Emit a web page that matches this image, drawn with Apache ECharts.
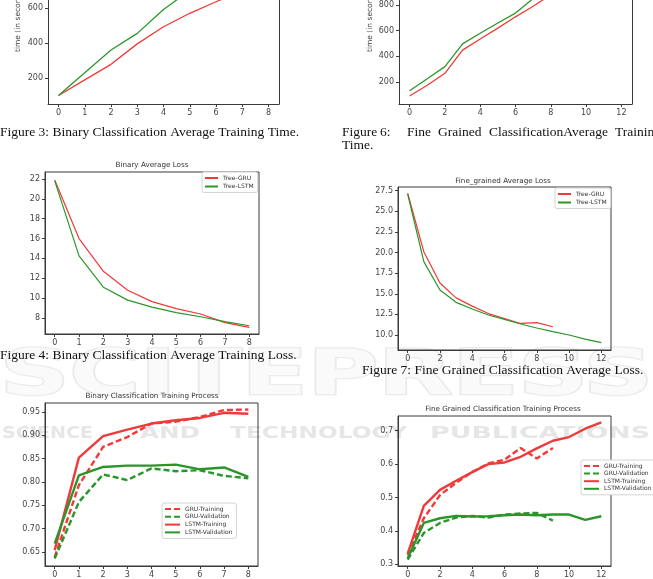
<!DOCTYPE html>
<html>
<head>
<meta charset="utf-8">
<script src="https://cdn.jsdelivr.net/npm/echarts@6/dist/echarts.min.js"></script>
<style>
html, body { margin: 0; padding: 0; background: #fff; }
#page { width: 653px; height: 579px; }
</style>
</head>
<body>
<div id="page"></div>
<script>
// fig 3 - binary avg training time (s)
const timeBinGru  = [100, 189, 278, 395, 493, 570, 636, 700, 760];
const timeBinLstm = [100, 230, 360, 455, 592, 700, 800, 900, 994];
// fig 6 - fine grained avg training time (s)
const timeFineGru  = [91, 175, 268, 449, 535, 620, 708, 790, 880, 970];
const timeFineLstm = [132, 225, 320, 497, 580, 660, 737, 850, 940, 1030, 1120, 1210, 1300];
// fig 4 - binary avg loss
const lossBinGru  = [21.9, 16.0, 12.7, 10.8, 9.65, 8.94, 8.4, 7.53, 7.06];
const lossBinLstm = [21.8, 14.25, 11.1, 9.8, 9.1, 8.55, 8.13, 7.63, 7.22];
// fig 7 - fine grained avg loss
const lossFineGru  = [27.2, 20.1, 16.3, 14.5, 13.5, 12.6, 12.0, 11.4, 11.5, 11.0];
const lossFineLstm = [27.1, 18.9, 15.45, 13.96, 13.15, 12.42, 11.9, 11.33, 10.85, 10.4, 10.0, 9.5, 9.07];
// fig 5 - binary training process
const accBinGruTrain  = [0.639, 0.793, 0.875, 0.896, 0.925, 0.929, 0.939, 0.954, 0.955];
const accBinGruVal    = [0.636, 0.757, 0.816, 0.804, 0.829, 0.823, 0.825, 0.813, 0.808];
const accBinLstmTrain = [0.654, 0.852, 0.898, 0.912, 0.925, 0.932, 0.937, 0.948, 0.946];
const accBinLstmVal   = [0.668, 0.814, 0.832, 0.835, 0.835, 0.837, 0.827, 0.831, 0.811];
// fig 8 - fine grained training process
const accFineGruTrain  = [0.328, 0.438, 0.507, 0.544, 0.576, 0.602, 0.613, 0.648, 0.617, 0.648];
const accFineGruVal    = [0.314, 0.394, 0.424, 0.44, 0.445, 0.44, 0.449, 0.452, 0.454, 0.431];
const accFineLstmTrain = [0.332, 0.475, 0.523, 0.55, 0.576, 0.6, 0.605, 0.622, 0.647, 0.67, 0.681, 0.706, 0.725];
const accFineLstmVal   = [0.318, 0.424, 0.438, 0.445, 0.443, 0.444, 0.447, 0.449, 0.447, 0.449, 0.449, 0.433, 0.444];

// tick labels
const ticksEpoch8  = [0, 1, 2, 3, 4, 5, 6, 7, 8];
const ticksEpoch12 = [0, 2, 4, 6, 8, 10, 12];
const ticksTimeBin  = [200, 400, 600];
const ticksTimeFine = [200, 400, 600, 800];
const ticksLossBin  = [8, 10, 12, 14, 16, 18, 20, 22];
const ticksLossFine = [10, 12.5, 15, 17.5, 20, 22.5, 25, 27.5];
const ticksAccBin   = [0.65, 0.70, 0.75, 0.80, 0.85, 0.90, 0.95];
const ticksAccFine  = [0.3, 0.4, 0.5, 0.6, 0.7];

const RED = '#f03a3a';
const GREEN = '#2a962a';
const AX = '#3a3a3a';
const SANS = 'DejaVu Sans';
const SERIF = 'Liberation Serif';

const pts = arr => arr.map((v, i) => [i, v]);

function xAxis(gi, min, max, ticks, fs) {
  return {
    type: 'value', gridIndex: gi, min: min, max: max,
    axisLine: { show: true, onZero: false, lineStyle: { color: AX } },
    splitLine: { show: false },
    axisTick: { customValues: ticks, length: 3, lineStyle: { color: AX } },
    axisLabel: { customValues: ticks, fontSize: fs, color: '#444', fontFamily: SANS, margin: 5 }
  };
}
function yAxis(gi, min, max, ticks, fs, digits) {
  return {
    type: 'value', gridIndex: gi, min: min, max: max,
    axisLine: { show: true, onZero: false, lineStyle: { color: AX } },
    splitLine: { show: false },
    axisTick: { customValues: ticks, length: 3, lineStyle: { color: AX } },
    axisLabel: {
      customValues: ticks, fontSize: fs, color: '#444', fontFamily: SANS, margin: 5,
      formatter: v => digits == null ? String(v) : Number(v).toFixed(digits)
    }
  };
}
// right-hand frame edge for the top plots (their top edge is off the page)
function rightEdge(gi, min, max) {
  return {
    type: 'value', gridIndex: gi, min: min, max: max, position: 'right',
    axisLine: { show: true, onZero: false, lineStyle: { color: AX } },
    axisTick: { show: false }, axisLabel: { show: false }, splitLine: { show: false }
  };
}
function line(name, gi, arr, color, width, dashed) {
  return {
    name: name, type: 'line', xAxisIndex: gi, yAxisIndex: gi, data: pts(arr),
    symbol: 'none', silent: true,
    lineStyle: { color: color, width: width, type: dashed ? [6, 3] : 'solid' },
    itemStyle: { color: color }
  };
}
function legend(left, top, names, w, gap) {
  return {
    orient: 'vertical', left: left, top: top, data: names,
    itemWidth: w, itemHeight: 7, itemGap: gap, padding: [3, 4, 3, 2],
    backgroundColor: '#fff', borderColor: '#d4d4d4', borderWidth: 1, borderRadius: 2,
    itemStyle: { opacity: 0 },
    textStyle: { fontSize: 6, color: '#333', fontFamily: SANS },
    selectedMode: false
  };
}
function txt(s, x, y, font, align, color) {
  return { type: 'text', x: x, y: y, silent: true, z: 100,
    style: { text: s, font: font, fill: color || '#111', align: align || 'left', verticalAlign: 'middle' } };
}
function yName(s, x, y) {
  return { type: 'text', x: x, y: y, rotation: Math.PI / 2, silent: true, z: 100,
    style: { text: s, font: '7.5px "' + SANS + '"', fill: '#444', align: 'left', verticalAlign: 'middle' } };
}

// watermark words stretched to the width they take in the page
const measure = document.createElement('canvas').getContext('2d');
function stretched(s, x0, x1, y, font, fill, stroke, lw) {
  measure.font = font;
  const w = measure.measureText(s).width;
  return { type: 'text', x: x0, y: y, scaleX: (x1 - x0) / w, silent: true, z: -10,
    style: { text: s, font: font, fill: fill, stroke: stroke || null, lineWidth: lw || 0, verticalAlign: 'middle' } };
}
const wmFont = 'bold 16px "' + SANS + '"';
const bigFont = 'bold 62px "' + SANS + '"';

const capFont = '13.5px "' + SERIF + '"';
const titleFont = '7.2px "' + SANS + '"';

const chart = echarts.init(document.getElementById('page'));
chart.setOption({
  animation: false,
  backgroundColor: '#fff',
  grid: [
    { left: 48, right: 374, top: 0, height: 104 },
    { left: 399, right: 21, top: 0, height: 104 },
    { left: 45, right: 394, top: 172, height: 162, show: true, borderColor: AX, borderWidth: 1 },
    { left: 398, right: 42, top: 187, height: 163, show: true, borderColor: AX, borderWidth: 1 },
    { left: 45, right: 395, top: 403, height: 163, show: true, borderColor: AX, borderWidth: 1 },
    { left: 398, right: 42, top: 416, height: 163, show: true, borderColor: AX, borderWidth: 1 }
  ],
  xAxis: [
    xAxis(0, -0.4, 8.4, ticksEpoch8, 8),
    xAxis(1, -0.6, 12.6, ticksEpoch12, 8),
    xAxis(2, -0.4, 8.4, ticksEpoch8, 8),
    xAxis(3, -0.6, 12.6, ticksEpoch12, 8),
    xAxis(4, -0.4, 8.4, ticksEpoch8, 8),
    xAxis(5, -0.6, 12.6, ticksEpoch12, 8)
  ],
  yAxis: [
    yAxis(0, 51, 646, ticksTimeBin, 8, null),
    yAxis(1, 29, 839, ticksTimeFine, 8, null),
    yAxis(2, 6.39, 22.7, ticksLossBin, 8, null),
    yAxis(3, 8.18, 27.95, ticksLossFine, 8, 1),
    yAxis(4, 0.62, 0.969, ticksAccBin, 8, 2),
    yAxis(5, 0.295, 0.744, ticksAccFine, 8, 1),
    rightEdge(0, 51, 646),
    rightEdge(1, 29, 839)
  ],
  legend: [
    legend(202, 172, ['Tree-GRU', 'Tree-LSTM'], 13, 2.5),
    legend(555, 188, ['Tree-GRU', 'Tree-LSTM'], 13, 2.5),
    legend(162, 503, ['GRU-Training', 'GRU-Validation', 'LSTM-Training', 'LSTM-Validation'], 15, 1.8),
    legend(581, 460, ['GRU-Training', 'GRU-Validation', 'LSTM-Training', 'LSTM-Validation'], 15, 1.6)
  ],
  series: [
    line('Tree-GRU', 0, timeBinGru, RED, 1.3),
    line('Tree-LSTM', 0, timeBinLstm, GREEN, 1.3),
    line('Tree-GRU', 1, timeFineGru, RED, 1.3),
    line('Tree-LSTM', 1, timeFineLstm, GREEN, 1.3),
    line('Tree-GRU', 2, lossBinGru, RED, 1.2),
    line('Tree-LSTM', 2, lossBinLstm, GREEN, 1.2),
    line('Tree-GRU', 3, lossFineGru, RED, 1.2),
    line('Tree-LSTM', 3, lossFineLstm, GREEN, 1.2),
    line('GRU-Training', 4, accBinGruTrain, RED, 2.4, true),
    line('GRU-Validation', 4, accBinGruVal, GREEN, 2.4, true),
    line('LSTM-Training', 4, accBinLstmTrain, RED, 2.4),
    line('LSTM-Validation', 4, accBinLstmVal, GREEN, 2.4),
    line('GRU-Training', 5, accFineGruTrain, RED, 2.4, true),
    line('GRU-Validation', 5, accFineGruVal, GREEN, 2.4, true),
    line('LSTM-Training', 5, accFineLstmTrain, RED, 2.4),
    line('LSTM-Validation', 5, accFineLstmVal, GREEN, 2.4)
  ],
  graphic: [
    // publisher watermark
    stretched('SCITEPRESS', 0, 653, 378, bigFont, '#fafafa', '#ebebeb', 2.5),
    stretched('SCIENCE', 2, 93, 434, wmFont, '#e6e6e6'),
    stretched('AND', 140, 200, 434, wmFont, '#e6e6e6'),
    stretched('TECHNOLOGY', 230, 407, 434, wmFont, '#e6e6e6'),
    stretched('PUBLICATIONS', 430, 650, 434, wmFont, '#e6e6e6'),
    // axis names of the top plots (cut by the page edge)
    yName('time (in seconds)', 18, 52),
    yName('time (in seconds)', 370, 52),
    // plot titles
    txt('Binary Average Loss', 152, 165, titleFont, 'center', '#333'),
    txt('Fine_grained Average Loss', 503, 181, titleFont, 'center', '#333'),
    txt('Binary Classification Training Process', 152, 396, titleFont, 'center', '#333'),
    txt('Fine Grained Classification Training Process', 503, 409, titleFont, 'center', '#333'),
    // captions
    txt('Figure 3: Binary Classification Average Training Time.', 0, 132, capFont),
    txt('Figure', 342, 132, capFont),
    txt('6:', 380, 132, capFont),
    txt('Fine', 407, 132, capFont),
    txt('Grained', 438, 132, capFont),
    txt('ClassificationAverage', 489, 132, capFont),
    txt('Training', 615, 132, capFont),
    txt('Time.', 342, 145, capFont),
    txt('Figure 4: Binary Classification Average Training Loss.', 0, 355, capFont),
    txt('Figure 7: Fine Grained Classification Average Loss.', 362, 370, capFont)
  ]
});
</script>
</body>
</html>
